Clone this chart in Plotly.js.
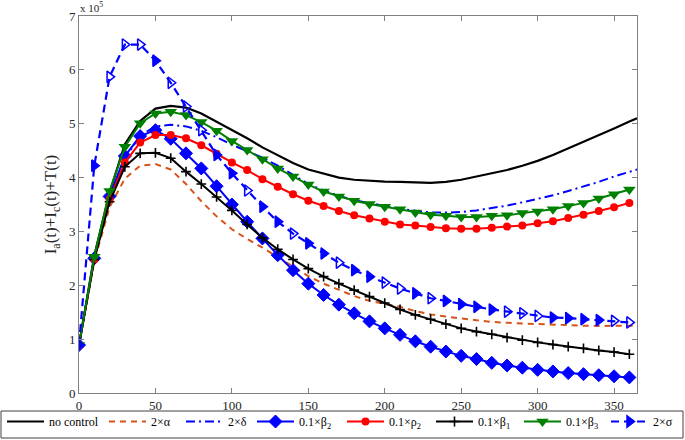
<!DOCTYPE html>
<html>
<head>
<meta charset="utf-8">
<script src="https://cdn.plot.ly/plotly-3.0.1.min.js"></script>
<style>html,body{margin:0;padding:0;background:#fff;}#chart{width:685px;height:440px;}</style>
</head>
<body>
<div id="chart"></div>
<script>
// time in days (marker series sampled every 10 days)
const days = [0,10,20,30,40,50,60,70,80,90,100,110,120,130,140,150,160,170,180,190,200,210,220,230,240,250,260,270,280,290,300,310,320,330,340,350,360];
const daysLong = [0,10,20,30,40,50,60,70,80,90,100,110,120,130,140,150,160,170,180,190,200,210,220,230,240,250,260,270,280,290,300,310,320,330,340,350,360,365];

// values in units of 1e5
const noControl = [0.89,2.55,3.72,4.62,5.05,5.28,5.33,5.30,5.19,5.04,4.89,4.73,4.56,4.41,4.27,4.15,4.07,4.00,3.96,3.94,3.925,3.92,3.91,3.90,3.92,3.96,4.02,4.08,4.14,4.22,4.31,4.42,4.54,4.66,4.78,4.91,5.04,5.10];
const twoAlpha = [0.89,2.45,3.45,3.98,4.22,4.25,4.15,3.88,3.56,3.28,3.04,2.86,2.70,2.52,2.34,2.17,2.03,1.91,1.80,1.71,1.65,1.60,1.52,1.46,1.42,1.38,1.35,1.32,1.30,1.29,1.28,1.27,1.25,1.25,1.245,1.245,1.25,1.25];
const twoDelta = [0.89,2.50,3.65,4.35,4.78,4.95,4.98,4.95,4.87,4.75,4.61,4.49,4.37,4.22,4.05,3.88,3.76,3.66,3.58,3.52,3.47,3.42,3.38,3.35,3.35,3.36,3.39,3.43,3.48,3.54,3.60,3.67,3.75,3.83,3.92,4.02,4.11,4.15];
const beta2 = [0.89,2.50,3.65,4.40,4.77,4.88,4.72,4.45,4.17,3.84,3.50,3.18,2.87,2.56,2.28,2.03,1.82,1.64,1.48,1.33,1.20,1.08,0.96,0.86,0.77,0.69,0.63,0.56,0.51,0.47,0.43,0.40,0.37,0.35,0.33,0.31,0.29];
const rho2 = [0.89,2.48,3.60,4.28,4.65,4.79,4.79,4.73,4.60,4.44,4.28,4.14,3.97,3.83,3.69,3.57,3.47,3.38,3.30,3.24,3.18,3.13,3.11,3.08,3.06,3.05,3.05,3.07,3.09,3.11,3.15,3.19,3.25,3.31,3.38,3.45,3.53];
const beta1 = [0.89,2.48,3.55,4.20,4.45,4.46,4.36,4.11,3.88,3.64,3.39,3.13,2.88,2.67,2.48,2.31,2.16,2.03,1.91,1.79,1.67,1.55,1.45,1.37,1.28,1.20,1.14,1.09,1.03,0.98,0.94,0.90,0.86,0.83,0.79,0.76,0.72];
const beta3 = [0.89,2.53,3.75,4.57,5.01,5.19,5.22,5.16,5.03,4.87,4.68,4.51,4.34,4.17,4.02,3.87,3.74,3.65,3.57,3.51,3.46,3.41,3.35,3.31,3.29,3.27,3.27,3.29,3.30,3.34,3.37,3.41,3.47,3.53,3.61,3.69,3.78];
const sigma2 = [0.89,4.22,5.87,6.47,6.47,6.17,5.76,5.32,4.88,4.42,4.08,3.76,3.46,3.18,2.96,2.78,2.59,2.42,2.28,2.16,2.05,1.94,1.85,1.76,1.71,1.65,1.60,1.55,1.51,1.48,1.43,1.40,1.39,1.37,1.355,1.34,1.31];

const seriesNames = ['no control','2×α','2×δ','0.1×β<sub>2</sub>','0.1×ρ<sub>2</sub>','0.1×β<sub>1</sub>','0.1×β<sub>3</sub>','2×σ'];
const xTicks = [0,50,100,150,200,250,300,350];
const yTicks = [0,1,2,3,4,5,6,7];
const yTickText = ['0','1','2','3','4','5','6','7'];

// layout: pixel where each legend entry's line sample starts
const legendStartPx = [8,110,187,258,348,437,525,612];

// style: marker outline pattern of dashed-line markers (f = filled, o = open)
const sigmaPattern = 'ffooofooofforfoffoffoofoffffoooffffooo';
const sigmaSymbols = days.map((d,i)=> sigmaPattern[i]==='o' ? 'triangle-right-open' : 'triangle-right');

const SERIF = 'Liberation Serif, Times New Roman, serif';
const traces = [
  {x: daysLong, y: noControl, mode:'lines', line:{color:'#000000', width:2.2}},
  {x: daysLong, y: twoAlpha, mode:'lines', line:{color:'#D95319', width:2, dash:'6px,5px'}},
  {x: daysLong, y: twoDelta, mode:'lines', line:{color:'#0000FF', width:2, dash:'9px,4px,2px,4px'}},
  {x: days, y: beta2, mode:'lines+markers', line:{color:'#0000FF', width:2}, marker:{symbol:'diamond', size:10, color:'#0000FF', line:{color:'#0000FF', width:1}}},
  {x: days, y: rho2, mode:'lines+markers', line:{color:'#FF0000', width:2}, marker:{symbol:'circle', size:8, color:'#FF0000'}},
  {x: days, y: beta1, mode:'lines+markers', line:{color:'#000000', width:2}, marker:{symbol:'cross-thin', size:7, color:'#000000', line:{color:'#000000', width:1.6}}},
  {x: days, y: beta3, mode:'lines+markers', line:{color:'#008000', width:2}, marker:{symbol:'triangle-down', size:11, color:'#008000'}},
  {x: days, y: sigma2, mode:'lines+markers', line:{color:'#0000FF', width:2.2, dash:'8px,5px'}, marker:{symbol: sigmaSymbols, size:10, color:'#0000FF', line:{color:'#0000FF', width:1.5}}}
];

const L = 79, R = 637, T = 16, B = 393, W = 685, H = 440;
const pw = R - L, ph = B - T;
const px2x = p => (p - L) / pw;
const py2y = p => (B - p) / ph;

const axisCommon = {
  showline: true, linecolor: '#808080', linewidth: 1, mirror: 'ticks',
  ticks: 'inside', ticklen: 5, tickcolor: '#808080', tickwidth: 1,
  showgrid: false, zeroline: false,
  tickfont: {family: SERIF, size: 13, color: '#262626'}
};

const layout = {
  width: W, height: H,
  margin: {l: L, r: W - R, t: T, b: H - B, autoexpand: false},
  paper_bgcolor: '#ffffff', plot_bgcolor: '#ffffff',
  showlegend: true,
  xaxis: Object.assign({}, axisCommon, {range: [0, 365], tickvals: xTicks, ticktext: xTicks.map(String)}),
  yaxis: Object.assign({}, axisCommon, {range: [0, 7], tickvals: yTicks, ticktext: yTickText,
    title: {text: 'I<sub>a</sub>(t)+I<sub>c</sub>(t)+T(t)', font: {family: SERIF, size: 17, color: '#262626'}, standoff: 7}}),
  shapes: [{type: 'rect', xref: 'paper', yref: 'paper', x0: px2x(1), x1: px2x(683), y0: py2y(438), y1: py2y(411),
    line: {color: '#404040', width: 1}, fillcolor: 'rgba(0,0,0,0)'}],
  annotations: [{xref: 'paper', yref: 'paper', x: 0, y: 1, xanchor: 'left', yanchor: 'bottom', showarrow: false,
    text: 'x 10<sup>5</sup>', font: {family: SERIF, size: 11, color: '#262626'}, xshift: -1, yshift: 0}]
};

traces.forEach((tr, i) => {
  const key = i === 0 ? 'legend' : 'legend' + (i + 1);
  tr.name = seriesNames[i];
  tr.legend = key;
  tr.showlegend = true;
  layout[key] = {orientation: 'h', x: px2x(legendStartPx[i] - 6), xanchor: 'left', y: py2y(407), yanchor: 'top',
    font: {family: SERIF, size: 12, color: '#000000'}, bgcolor: 'rgba(0,0,0,0)', borderwidth: 0, itemwidth: 37};
});

Plotly.newPlot('chart', traces, layout, {staticPlot: true, displayModeBar: false});
</script>
</body>
</html>
